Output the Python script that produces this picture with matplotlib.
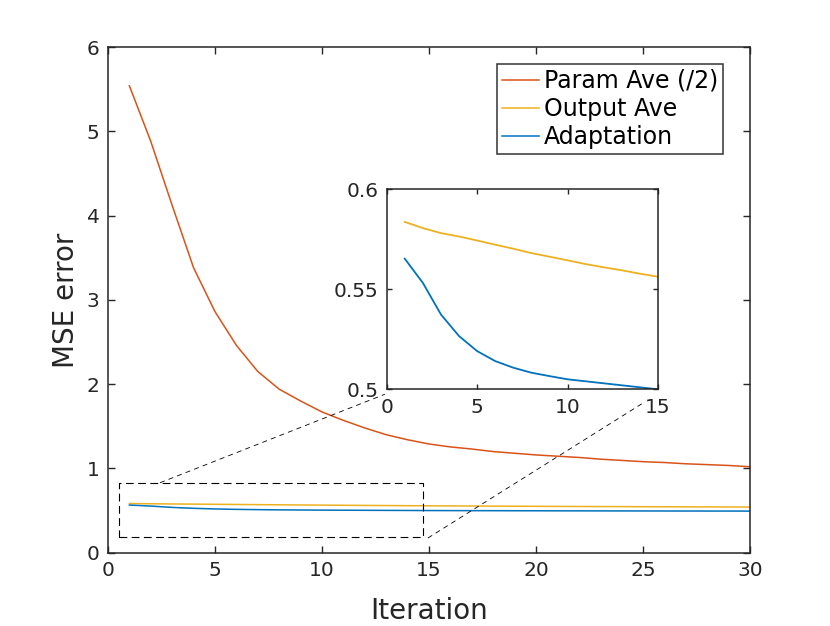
import matplotlib
matplotlib.use("Agg")
import matplotlib.pyplot as plt

plt.rcParams['font.family'] = ['DejaVu Sans']

# ---- data ----
iterations = list(range(1, 31))
param_ave = [5.54, 4.88, 4.12, 3.38, 2.86, 2.46, 2.15, 1.94, 1.80, 1.67,
             1.57, 1.48, 1.40, 1.34, 1.29, 1.255, 1.23, 1.20, 1.18, 1.16,
             1.145, 1.13, 1.11, 1.095, 1.08, 1.07, 1.055, 1.045, 1.035, 1.02]
output_ave = [0.5837, 0.5806, 0.5781, 0.5764, 0.5744, 0.5723, 0.5703, 0.5681, 0.5663, 0.5645,
              0.5626, 0.5610, 0.5595, 0.5578, 0.5563, 0.5550, 0.5538, 0.5526, 0.5515, 0.5504,
              0.5494, 0.5484, 0.5475, 0.5466, 0.5457, 0.5449, 0.5441, 0.5433, 0.5426, 0.5419]
adaptation = [0.5653, 0.5532, 0.5374, 0.5266, 0.5191, 0.5141, 0.5108, 0.5083, 0.5066, 0.5050,
              0.5040, 0.5030, 0.5020, 0.5010, 0.5000, 0.4994, 0.4988, 0.4983, 0.4978, 0.4973,
              0.4968, 0.4964, 0.4960, 0.4956, 0.4952, 0.4948, 0.4945, 0.4942, 0.4939, 0.4936]
labels = ["Param Ave (/2)", "Output Ave", "Adaptation"]
colors = ["#D95319", "#EDB120", "#0072BD"]

main_xticks = [0, 5, 10, 15, 20, 25, 30]
main_yticks = [0, 1, 2, 3, 4, 5, 6]
inset_xticks = [0, 5, 10, 15]
inset_yticks = [0.5, 0.55, 0.6]
inset_yticklabels = ["0.5", "0.55", "0.6"]

# zoom-box annotation (main-axes data units)
box_x = [0.53, 14.73, 14.73, 0.53, 0.53]
box_y = [0.183, 0.183, 0.83, 0.83, 0.183]
link1_x = [2.43, 12.94]
link1_y = [0.83, 1.88]
link2_x = [14.95, 25.09]
link2_y = [0.174, 1.79]

txt = '#262626'

fig = plt.figure(figsize=(8.3, 6.26), dpi=100)
ax = fig.add_axes([0.1301, 0.1171, 0.7735, 0.8078])

for y, lab, c in zip([param_ave, output_ave, adaptation], labels, colors):
    ax.plot(iterations, y, color=c, lw=1.1, label=lab)

ax.set_xlim(0, 30)
ax.set_ylim(0, 6)
ax.set_xticks(main_xticks)
ax.set_yticks(main_yticks)
ax.tick_params(direction='in', length=5, width=1, colors=txt, labelsize=14.5,
               top=True, right=True, pad=6)
for s in ax.spines.values():
    s.set_color(txt)
    s.set_linewidth(1.1)
ax.set_xlabel("Iteration", fontsize=20, color=txt, labelpad=12)
ax.set_ylabel("MSE error", fontsize=20, color=txt, labelpad=5)

leg = ax.legend(loc='upper right', bbox_to_anchor=(0.958, 0.966), borderaxespad=0,
                fontsize=17, frameon=True, fancybox=False, handlelength=1.6,
                handletextpad=0.2, labelspacing=0.17, borderpad=0.2)
leg.get_frame().set_edgecolor('#000000')
leg.get_frame().set_linewidth(1.1)

# zoom box and links
ax.plot(box_x, box_y, color='k', lw=0.8, dashes=(7, 4), clip_on=False, zorder=3)
ax.plot(link1_x, link1_y, color='k', lw=0.6, dashes=(6, 5), clip_on=False, zorder=3)
ax.plot(link2_x, link2_y, color='k', lw=0.6, dashes=(6, 5), clip_on=False, zorder=3)

# inset
ins = fig.add_axes([0.4659, 0.3781, 0.3269, 0.3195])
ins.plot(iterations, output_ave, color=colors[1], lw=1.3)
ins.plot(iterations, adaptation, color=colors[2], lw=1.3)
ins.set_xlim(0, 15)
ins.set_ylim(0.5, 0.6)
ins.set_xticks(inset_xticks)
ins.set_yticks(inset_yticks)
ins.set_yticklabels(inset_yticklabels)
ins.tick_params(direction='in', length=3.5, width=1, colors=txt, labelsize=14.5,
                top=True, right=True, pad=6)
for s in ins.spines.values():
    s.set_color(txt)
    s.set_linewidth(1.1)

fig.savefig("out.png", dpi=100)
